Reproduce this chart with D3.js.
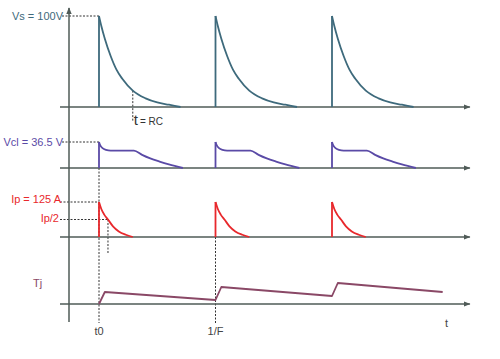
<!DOCTYPE html>
<html>
<head>
<meta charset="utf-8">
<script src="https://cdn.jsdelivr.net/npm/d3@7"></script>
<style>
  html, body { margin: 0; padding: 0; background: #fff; }
  svg { display: block; font-family: "Liberation Sans", Arial, sans-serif; }
</style>
</head>
<body>
<svg id="chart" width="500" height="359"></svg>
<script>
// periodes : impulsions a t0, 1/F, 2/F (t en unites de 1/F)
const pulseStarts = [0, 1, 2];

// tension Vs (V) : decroissance RC apres chaque impulsion
const vsOffsets = [0, 0.02, 0.05, 0.1, 0.15, 0.2, 0.29, 0.4, 0.5, 0.6, 0.7];
const vsValues  = [100, 89, 75, 56, 41, 31, 18, 9.5, 5, 2.5, 0];
const vsPeak = 100;
const tRC = 0.29;

// tension de clamp Vcl (V)
const vclOffsets = [0, 0.01, 0.03, 0.06, 0.1, 0.3, 0.37, 0.44, 0.52, 0.6, 0.72];
const vclValues  = [36.5, 32, 28, 25.5, 24.5, 24.5, 18.5, 13.5, 9, 5, 0];
const vclPeak = 36.5;

// courant Ip (A)
const ipOffsets = [0, 0.02, 0.045, 0.077, 0.12, 0.17, 0.23, 0.29];
const ipValues  = [125, 100, 80, 62.5, 38, 20, 8, 0];
const ipPeak = 125;

// temperature de jonction Tj (unites relatives)
const tjTimes  = [0, 0.05, 1, 1.05, 2, 2.05, 2.95];
const tjValues = [0, 12, 4, 17, 8, 21, 12];

const xTickLabels = ["t0", "1/F"];
const xTickTimes  = [0, 1];

(function() {
  const svg = d3.select('#chart');

  const axisColor = '#4f5b57';
  const x = d3.scaleLinear().domain([0, 1]).range([99, 215.5]);
  const tMin = -0.335, tMax = 3.14;

  const panels = [
    { name: 'vs',  y: d3.scaleLinear().domain([0, vsPeak]).range([107, 16]),  color: '#3e6a7c' },
    { name: 'vcl', y: d3.scaleLinear().domain([0, vclPeak]).range([168, 142]), color: '#5a4aa6' },
    { name: 'ip',  y: d3.scaleLinear().domain([0, ipPeak]).range([237, 202]),  color: '#e8282c' },
    { name: 'tj',  y: d3.scaleLinear().domain([0, 20]).range([304, 284]),      color: '#8a4866' }
  ];
  const P = {};
  panels.forEach(p => P[p.name] = p);

  // fleches
  const defs = svg.append('defs');
  defs.append('marker')
    .attr('id', 'arrow')
    .attr('viewBox', '0 0 10 10')
    .attr('refX', 9).attr('refY', 5)
    .attr('markerWidth', 7).attr('markerHeight', 7)
    .attr('markerUnits', 'userSpaceOnUse')
    .attr('orient', 'auto')
    .append('path')
    .attr('d', 'M0,1 L10,5 L0,9 Z')
    .attr('fill', axisColor);

  // lignes pointillees
  const dash = svg.append('g')
    .attr('stroke', '#333')
    .attr('stroke-width', 1)
    .attr('stroke-dasharray', '2,1.5')
    .attr('fill', 'none');

  dash.append('line')
    .attr('x1', 62).attr('x2', x(0))
    .attr('y1', P.vs.y(vsPeak)).attr('y2', P.vs.y(vsPeak));
  dash.append('line')
    .attr('x1', 62).attr('x2', x(0))
    .attr('y1', P.vcl.y(vclPeak)).attr('y2', P.vcl.y(vclPeak));
  dash.append('line')
    .attr('x1', 60).attr('x2', x(0))
    .attr('y1', P.ip.y(ipPeak)).attr('y2', P.ip.y(ipPeak));
  dash.append('line')
    .attr('x1', 60).attr('x2', x(0.077))
    .attr('y1', P.ip.y(ipPeak / 2)).attr('y2', P.ip.y(ipPeak / 2));
  dash.append('line')
    .attr('x1', x(0.077)).attr('x2', x(0.077))
    .attr('y1', P.ip.y(ipPeak / 2)).attr('y2', 253);
  // t = RC
  const rcIdx = vsOffsets.indexOf(tRC);
  dash.append('line')
    .attr('x1', x(tRC)).attr('x2', x(tRC))
    .attr('y1', P.vs.y(vsValues[rcIdx])).attr('y2', 121);
  // verticales t0 et 1/F
  dash.append('line')
    .attr('x1', x(0)).attr('x2', x(0))
    .attr('y1', P.vcl.y(0)).attr('y2', 323);
  dash.append('line')
    .attr('x1', x(1)).attr('x2', x(1))
    .attr('y1', P.ip.y(0)).attr('y2', 323);

  // axes
  const axes = svg.append('g')
    .attr('stroke', axisColor)
    .attr('stroke-width', 1.5);
  axes.append('line')
    .attr('x1', 69).attr('x2', 69)
    .attr('y1', 322).attr('y2', 8)
    .attr('marker-end', 'url(#arrow)');
  panels.forEach(p => {
    axes.append('line')
      .attr('x1', x(tMin)).attr('x2', x(tMax) + 5)
      .attr('y1', p.y(0)).attr('y2', p.y(0))
      .attr('marker-end', 'url(#arrow)');
  });

  // impulsions : front vertical + decroissance lissee
  const curves = svg.append('g')
    .attr('fill', 'none')
    .attr('stroke-width', 1.8)
    .attr('stroke-linejoin', 'round');

  [['vs', vsOffsets, vsValues], ['vcl', vclOffsets, vclValues], ['ip', ipOffsets, ipValues]]
    .forEach(([name, offs, vals]) => {
      const p = P[name];
      const decay = d3.line()
        .x(d => x(d[0])).y(d => p.y(d[1]))
        .curve(d3.curveMonotoneX);
      const g = curves.selectAll('g.' + name)
        .data(pulseStarts)
        .join('g')
        .attr('class', name)
        .attr('stroke', p.color);
      g.append('line')
        .attr('x1', s => x(s)).attr('x2', s => x(s))
        .attr('y1', p.y(0)).attr('y2', p.y(vals[0]));
      g.append('path')
        .attr('d', s => decay(offs.map((o, i) => [s + o, vals[i]])));
    });

  curves.append('path')
    .attr('stroke', P.tj.color)
    .attr('d', d3.line().x(d => x(d[0])).y(d => P.tj.y(d[1]))(tjTimes.map((t, i) => [t, tjValues[i]])));

  // textes
  const labels = svg.append('g').attr('font-size', 11);
  labels.append('text')
    .attr('x', 63).attr('y', P.vs.y(vsPeak) + 4)
    .attr('text-anchor', 'end').attr('fill', P.vs.color)
    .text('Vs = 100V');
  labels.append('text')
    .attr('x', 63).attr('y', P.vcl.y(vclPeak) + 4)
    .attr('text-anchor', 'end').attr('fill', P.vcl.color)
    .text('Vcl = 36.5 V');
  labels.append('text')
    .attr('x', 61).attr('y', P.ip.y(ipPeak) + 1)
    .attr('text-anchor', 'end').attr('fill', P.ip.color)
    .text('Ip = 125 A');
  labels.append('text')
    .attr('x', 59).attr('y', P.ip.y(ipPeak / 2) + 2)
    .attr('text-anchor', 'end').attr('fill', P.ip.color)
    .text('Ip/2');
  labels.append('text')
    .attr('x', 33).attr('y', 287)
    .attr('fill', P.tj.color)
    .text('Tj');

  labels.selectAll('text.tick')
    .data(xTickTimes)
    .join('text')
    .attr('class', 'tick')
    .attr('x', d => x(d)).attr('y', 335)
    .attr('text-anchor', 'middle').attr('fill', '#444')
    .text((d, i) => xTickLabels[i]);

  labels.append('text')
    .attr('x', 445).attr('y', 327)
    .attr('fill', '#444')
    .text('t');

  const rc = labels.append('text')
    .attr('x', x(tRC) + 1).attr('y', 125)
    .attr('fill', '#333');
  rc.append('tspan').attr('font-size', 15).text('t');
  rc.append('tspan').attr('font-size', 10).attr('dx', 2).text('= RC');
})();
</script>
</body>
</html>
